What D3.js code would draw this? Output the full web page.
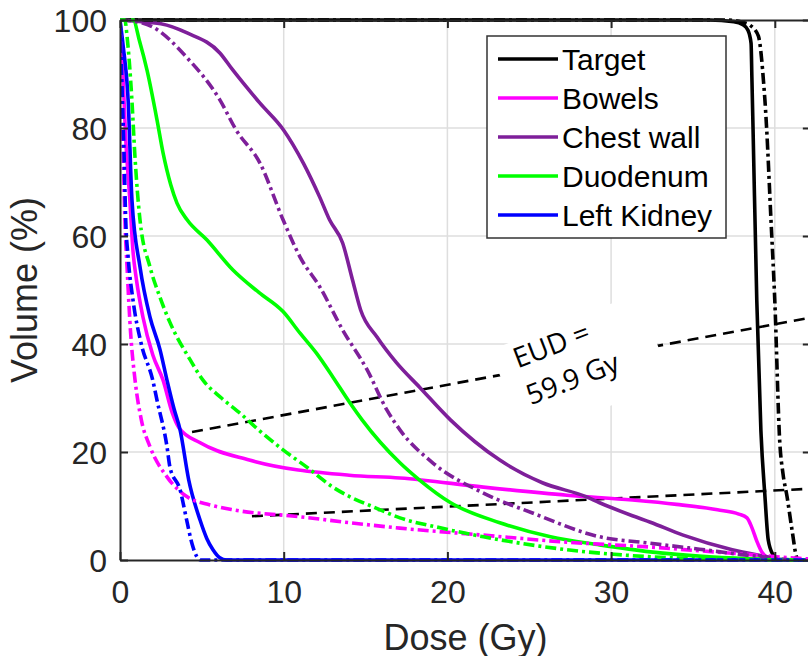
<!DOCTYPE html>
<html>
<head>
<meta charset="utf-8">
<script src="https://cdn.jsdelivr.net/npm/d3@7"></script>
<style>
body { margin: 0; background: #fff; }
</style>
</head>
<body>
<div id="chart"></div>
<script>
// tick labels
var doseTicks = [0, 10, 20, 30, 40];
var volTicks = [0, 20, 40, 60, 80, 100];

// legend entries and colours
var organs = ["Target", "Bowels", "Chest wall", "Duodenum", "Left Kidney"];
var organColors = ["#000000", "#ff00ff", "#7e1f9a", "#00ff00", "#0000ff"];

// DVH curves, [dose (Gy), volume (%)], solid = plan A, dash-dot = plan B
var targetSolid = [[0,100],[36,100],[37.5,99.7],[38.06,99.1],[38.36,98.1],[38.55,95.7],[38.6,89.4],[38.67,80],[38.9,48],[39.15,24],[39.4,11.7],[39.6,3.7],[39.9,0.9],[40.2,0]];
var targetDash = [[0,100],[37,100],[38,99.6],[38.5,99],[39,97],[39.2,92.6],[39.3,89],[39.4,85],[39.5,80],[39.75,64],[40,48],[40.3,22],[40.5,16],[40.75,11.7],[41.05,5.6],[41.35,0.4],[41.5,0]];
var bowelsSolid = [[0,100],[0.15,92],[0.35,78],[0.6,66.7],[0.8,57],[1.0,52],[1.4,45],[2.0,38],[2.63,33.3],[3.2,27.2],[3.6,24.5],[4.9,21.7],[7.9,18.5],[14,15.7],[17.1,15.2],[22.2,13.5],[27.3,12],[31.3,11.1],[34,10.3],[36.5,9.3],[37.8,8.5],[38.3,7.8],[38.6,6],[38.9,3.5],[39.2,1.5],[39.6,0.4],[40,0]];
var bowelsDash = [[0,100],[0.1,90],[0.2,75],[0.3,63],[0.43,54.3],[0.65,42],[0.92,33.3],[1.3,26],[1.83,21],[2.87,15.4],[4.1,11.7],[5.5,10.2],[6.9,9.3],[11,8],[14.05,6.9],[17.1,5.9],[22.2,4.6],[27.3,3.3],[32.4,2.4],[35.4,1.7],[38.5,1.0],[41.5,0.3],[42.2,0.2]];
var chestSolid = [[0,100],[0.8,99.8],[2.5,99.3],[4.1,97.6],[6.1,93.9],[6.9,90.7],[8.55,84.6],[10,79.6],[11.2,73.5],[12.2,67.2],[12.8,63],[13.6,58.7],[14.2,51.9],[14.7,46.3],[15.7,41.3],[16.9,36.5],[18.3,32],[20.2,25.9],[23.2,18.5],[25.8,14.3],[28.5,11.7],[29.3,10.6],[31.3,8.2],[32.4,7.0],[34.4,4.6],[37.4,1.9],[39.5,0.6],[40.5,0]];
var chestDash = [[0,100],[0.8,99.8],[2.0,98.7],[4.1,93],[6.1,85.2],[7.1,79.6],[8.55,73.5],[9.96,63],[11.0,56.1],[12.2,50.6],[13.6,42.6],[15.1,35.2],[16.3,27.8],[17.1,24.1],[19.1,18],[22.2,12.4],[25.2,8.7],[29.3,4.3],[32.4,3.1],[35.4,2],[38,1],[39.5,0.5],[41,0]];
var duodSolid = [[0,100],[0.8,100],[1.2,96],[1.65,90.7],[2.26,81.5],[2.63,75.4],[3.1,69.5],[3.48,66.1],[4.1,63],[5.3,59.3],[6.9,53.7],[8.5,49.5],[9.96,46],[11.0,42],[12.0,38.3],[13.0,33.9],[14.0,29.3],[14.8,25.9],[17.1,18],[18.3,14.8],[20.2,10.6],[23.2,6.9],[26.3,4.3],[29.3,2.8],[32.4,1.5],[36,0.6],[40,0.1],[42.2,0]];
var duodDash = [[0,100],[0.3,100],[0.43,97],[0.73,85],[0.9,75.4],[1.22,63],[1.83,54.3],[2.4,49],[3.05,44],[4.3,37],[5.07,33.3],[6.2,30],[7.33,27.2],[8.5,24],[9.96,20.4],[11.5,17],[13,13.5],[14.05,11.7],[15.5,9.8],[17.1,7.8],[19.5,6],[22.2,4.3],[27.3,1.9],[32.4,0.6],[38,0.1],[42.2,0]];
var kidneySolid = [[0,100],[0.2,95],[0.5,85],[0.73,66.7],[1.22,54.3],[1.83,45],[2.44,39],[2.87,33.3],[3.3,28],[3.67,24.1],[4.2,14.8],[4.89,7.4],[5.3,4],[5.68,1.9],[6.1,0.4],[6.5,0],[42.2,0]];
var kidneyDash = [[0,100],[0.1,90],[0.25,75],[0.35,63],[0.5,56],[0.8,48],[1.3,40],[2.0,33.3],[2.26,29.6],[2.87,21],[3.05,17.2],[3.67,13],[4.1,7],[4.4,3],[4.7,0.6],[4.9,0],[42.2,0]];

// EUD extrapolation lines
var eudHigh = [[4.4,23.7],[42.2,44.9]];
var eudLow = [[8.06,8.1],[42.2,13.2]];

var solidCurves = [targetSolid, bowelsSolid, chestSolid, duodSolid, kidneySolid];
var dashCurves = [targetDash, bowelsDash, chestDash, duodDash, kidneyDash];

// set the dimensions
var W = 808, H = 656;
var x = d3.scaleLinear().domain([0, 42.2]).range([120, 120 + 42.2 * 16.37]);
var y = d3.scaleLinear().domain([0, 100]).range([560, 20]);

var svg = d3.select("#chart")
  .append("svg")
  .attr("width", W)
  .attr("height", H)
  .style("font-family", "'Liberation Sans', Arial, sans-serif");

svg.append("defs").append("clipPath").attr("id", "plotclip")
  .append("rect")
  .attr("x", x(0)).attr("y", y(100) - 3)
  .attr("width", x(42.2) - x(0)).attr("height", y(0) - y(100) + 6);

// grid
var grid = svg.append("g");
grid.selectAll(".gx").data(doseTicks.slice(1)).enter().append("line")
  .attr("x1", function(d) { return x(d); }).attr("x2", function(d) { return x(d); })
  .attr("y1", y(0)).attr("y2", y(100))
  .style("stroke", "#dedede").style("stroke-width", 1.5);
grid.selectAll(".gy").data(volTicks.slice(1, -1)).enter().append("line")
  .attr("x1", x(0)).attr("x2", x(42.2))
  .attr("y1", function(d) { return y(d); }).attr("y2", function(d) { return y(d); })
  .style("stroke", "#dedede").style("stroke-width", 1.5);

var line = d3.line()
  .x(function(d) { return x(d[0]); })
  .y(function(d) { return y(d[1]); })
  .curve(d3.curveMonotoneX);

var plot = svg.append("g").attr("clip-path", "url(#plotclip)");

// EUD dashed lines
[eudHigh, eudLow].forEach(function(l) {
  plot.append("path")
    .attr("d", d3.line().x(function(d) { return x(d[0]); }).y(function(d) { return y(d[1]); })(l))
    .style("fill", "none").style("stroke", "#000").style("stroke-width", 2.6)
    .style("stroke-dasharray", "11,7");
});

// EUD annotation with white background
var note = svg.append("g").attr("transform", "translate(577,364) rotate(-21)");
note.append("rect")
  .attr("x", -76).attr("y", -44).attr("width", 158).attr("height", 95)
  .style("fill", "#fff");
note.append("text").attr("x", -57).attr("y", -17).text("EUD =")
  .style("font-family", "'Open Sans', sans-serif").style("font-size", "28px").style("fill", "#000");
note.append("text").attr("x", -58).attr("y", 22).text("59.9 Gy")
  .style("font-family", "'Open Sans', sans-serif").style("font-size", "28px").style("fill", "#000");

// curves
solidCurves.forEach(function(c, i) {
  plot.append("path").attr("d", line(c))
    .style("fill", "none").style("stroke", organColors[i]).style("stroke-width", 3.6);
});
dashCurves.forEach(function(c, i) {
  plot.append("path").attr("d", line(c))
    .style("fill", "none").style("stroke", organColors[i]).style("stroke-width", 3.6)
    .style("stroke-dasharray", "11,4,3,4");
});

// axes
var axisColor = "#262626";
var xAxis = svg.append("g").attr("transform", "translate(0," + y(0) + ")")
  .call(d3.axisBottom(x).tickValues(doseTicks).tickSizeInner(-8).tickSizeOuter(0).tickPadding(20));
var yAxis = svg.append("g").attr("transform", "translate(" + x(0) + ",0)")
  .call(d3.axisLeft(y).tickValues(volTicks).tickSizeInner(-8).tickSizeOuter(0).tickPadding(13));
var xTop = svg.append("g").attr("transform", "translate(0," + y(100) + ")")
  .call(d3.axisTop(x).tickValues(doseTicks).tickSizeInner(-8).tickSizeOuter(0).tickFormat(""));
var yRight = svg.append("g").attr("transform", "translate(" + x(42.2) + ",0)")
  .call(d3.axisRight(y).tickValues(volTicks).tickSizeInner(-8).tickSizeOuter(0).tickFormat(""));

[xAxis, yAxis, xTop, yRight].forEach(function(a) {
  a.select(".domain").style("stroke", axisColor).style("stroke-width", 2);
  a.selectAll(".tick line").style("stroke", axisColor).style("stroke-width", 2);
  a.selectAll("text").style("font-size", "32px").style("fill", axisColor)
    .style("font-family", "'Liberation Sans', Arial, sans-serif");
});
yAxis.selectAll("text").attr("dy", "0.36em");

// axis labels
svg.append("text")
  .attr("x", (x(0) + x(42.2)) / 2).attr("y", 650)
  .attr("text-anchor", "middle")
  .style("font-size", "36px").style("fill", axisColor)
  .text("Dose (Gy)");
svg.append("text")
  .attr("transform", "translate(37," + (y(0) + y(100)) / 2 + ") rotate(-90)")
  .attr("text-anchor", "middle")
  .style("font-size", "36px").style("fill", axisColor)
  .text("Volume (%)");

// legend
var legend = svg.append("g");
legend.append("rect")
  .attr("x", 487).attr("y", 36).attr("width", 239).attr("height", 202)
  .style("fill", "#fff").style("stroke", "#333").style("stroke-width", 1.5);
organs.forEach(function(name, i) {
  var ly = 59 + i * 39;
  legend.append("line")
    .attr("x1", 498).attr("x2", 558).attr("y1", ly).attr("y2", ly)
    .style("stroke", organColors[i]).style("stroke-width", 3.6);
  legend.append("text")
    .attr("x", 562).attr("y", ly).attr("dy", "0.36em")
    .style("font-size", "30px").style("fill", "#000")
    .text(name);
});
</script>
</body>
</html>
